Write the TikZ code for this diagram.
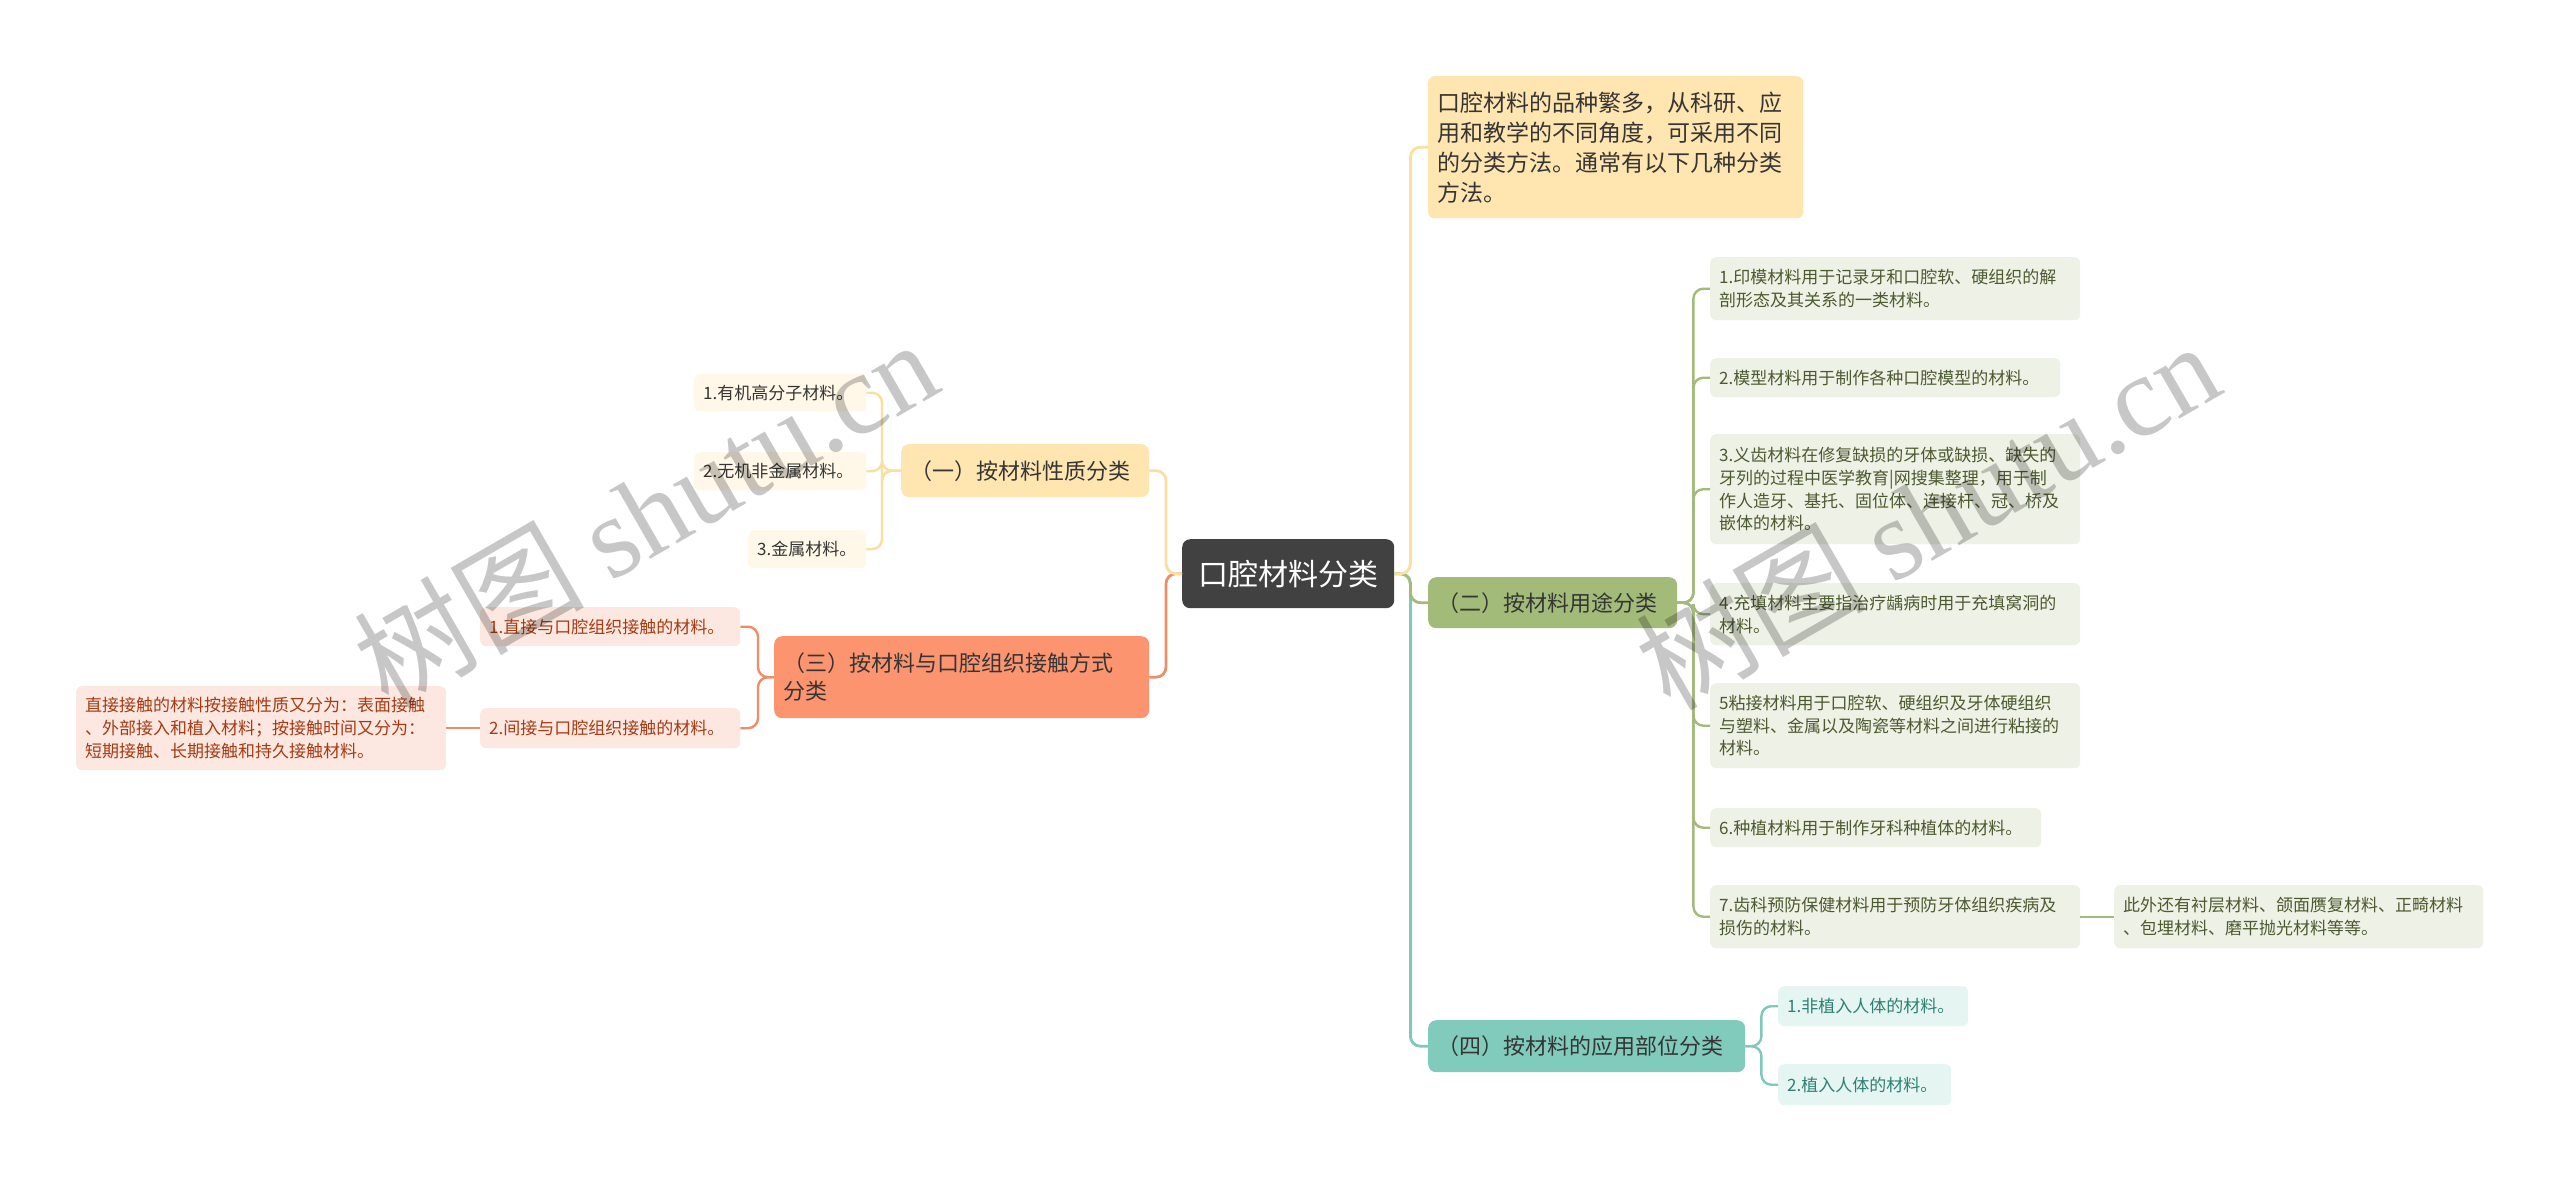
\documentclass[tikz,border=0pt]{standalone}
\usepackage{fontspec}
\setmainfont{Noto Sans CJK SC}
\newfontfamily\wmserif{Liberation Serif}
\newfontfamily\wmcjk{Noto Sans CJK SC}
\definecolor{cRoot}{HTML}{414141}
\definecolor{cYfill}{HTML}{FFE5AF}
\definecolor{cYleaf}{HTML}{FFF8E8}
\definecolor{cYline}{HTML}{F9DFA2}
\definecolor{cOfill}{HTML}{FD9470}
\definecolor{cOleaf}{HTML}{FDE8E1}
\definecolor{cOline}{HTML}{EE8E68}
\definecolor{cOtext}{HTML}{A63A12}
\definecolor{cGfill}{HTML}{A3BB79}
\definecolor{cGleaf}{HTML}{EEF1E5}
\definecolor{cGline}{HTML}{A3BA7C}
\definecolor{cGtext}{HTML}{4B5A2F}
\definecolor{cTfill}{HTML}{80CBBC}
\definecolor{cTleaf}{HTML}{E5F5F1}
\definecolor{cTline}{HTML}{80C9BA}
\definecolor{cTtext}{HTML}{2F8074}
\definecolor{cDark}{HTML}{353535}
\tikzset{
  base/.style={rounded corners=6pt, inner xsep=9pt, inner ysep=2pt, anchor=north west, align=left},
  leaffont/.style={font=\fontsize{17pt}{22.7pt}\selectfont},
  brfont/.style={font=\fontsize{22pt}{28.5pt}\selectfont},
  rootbox/.style={rounded corners=8pt, fill=cRoot, text=white, anchor=north west, align=center, font=\fontsize{30pt}{36pt}\selectfont},
  notebox/.style={base, fill=cYfill, text=cDark, font=\fontsize{23pt}{30pt}\selectfont},
  brY/.style={base, brfont, fill=cYfill, text=cDark, rounded corners=8pt},
  brO/.style={base, brfont, fill=cOfill, text=cDark, rounded corners=8pt},
  brG/.style={base, brfont, fill=cGfill, text=cDark, rounded corners=8pt},
  brT/.style={base, brfont, fill=cTfill, text=cDark, rounded corners=8pt},
  lfY/.style={base, leaffont, fill=cYleaf, text=cDark},
  lfO/.style={base, leaffont, fill=cOleaf, text=cOtext},
  lfG/.style={base, leaffont, fill=cGleaf, text=cGtext},
  lfT/.style={base, leaffont, fill=cTleaf, text=cTtext},
  conn/.style={line width=2.8pt, rounded corners=10pt},
  connY/.style={conn, draw=cYline},
  connO/.style={conn, draw=cOline},
  connG/.style={conn, draw=cGline},
  connT/.style={conn, draw=cTline},
  wm/.style={text=black, opacity=0.22, inner sep=0pt, font=\fontsize{115pt}{120pt}\selectfont}
}
\begin{document}
\begin{tikzpicture}[x=1pt, y=-1pt]
\useasboundingbox (0,0) rectangle (2560,1181);
\fill[white] (0,0) rectangle (2560,1181);
% root
\node[rootbox, minimum width=212pt, minimum height=69pt] (root) at (1182,539) {口腔材料分类};
% note
\node[notebox, text width=357pt, minimum height=142pt] (note) at (1428,76) {口腔材料的品种繁多，从科研、应\\用和教学的不同角度，可采用不同\\的分类方法。通常有以下几种分类\\方法。};
% (一)
\node[brY, text width=230pt, minimum height=53pt] (yi) at (901,444) {（一）按材料性质分类};
\node[lfY, text width=154pt, minimum height=37pt] (l1) at (694,374) {1.有机高分子材料。};
\node[lfY, text width=154pt, minimum height=38pt] (l2) at (694,452) {2.无机非金属材料。};
\node[lfY, text width=100pt, minimum height=38pt] (l3) at (748,530) {3.金属材料。};
% (三)
\node[brO, text width=357pt, minimum height=82pt] (san) at (774,636) {（三）按材料与口腔组织接触方式\\分类};
\node[lfO, text width=242pt, minimum height=39pt] (c1) at (480,607) {1.直接与口腔组织接触的材料。};
\node[lfO, text width=242pt, minimum height=40pt] (c2) at (480,708) {2.间接与口腔组织接触的材料。};
\node[lfO, text width=352pt, minimum height=84pt] (far) at (76,686) {直接接触的材料按接触性质又分为：表面接触\\、外部接入和植入材料；按接触时间又分为：\\短期接触、长期接触和持久接触材料。};
% (二)
\node[brG, text width=231pt, minimum height=51pt] (er) at (1428,577) {（二）按材料用途分类};
\node[lfG, text width=352pt, minimum height=63pt] (g1) at (1710,257) {1.印模材料用于记录牙和口腔软、硬组织的解\\剖形态及其关系的一类材料。};
\node[lfG, text width=332pt, minimum height=39pt] (g2) at (1710,358) {2.模型材料用于制作各种口腔模型的材料。};
\node[lfG, text width=352pt, minimum height=110pt] (g3) at (1710,434) {3.义齿材料在修复缺损的牙体或缺损、缺失的\\牙列的过程中医学教育|网搜集整理，用于制\\作人造牙、基托、固位体、连接杆、冠、桥及\\嵌体的材料。};
\node[lfG, text width=352pt, minimum height=62pt] (g4) at (1710,583) {4.充填材料主要指治疗龋病时用于充填窝洞的\\材料。};
\node[lfG, text width=352pt, minimum height=85pt] (g5) at (1710,683) {5粘接材料用于口腔软、硬组织及牙体硬组织\\与塑料、金属以及陶瓷等材料之间进行粘接的\\材料。};
\node[lfG, text width=313pt, minimum height=39pt] (g6) at (1710,808) {6.种植材料用于制作牙科种植体的材料。};
\node[lfG, text width=352pt, minimum height=63pt] (g7) at (1710,885) {7.齿科预防保健材料用于预防牙体组织疾病及\\损伤的材料。};
\node[lfG, text width=351pt, minimum height=63pt] (g7c) at (2114,885) {此外还有衬层材料、颌面赝复材料、正畸材料\\、包埋材料、磨平抛光材料等等。};
% (四)
\node[brT, text width=299pt, minimum height=52pt] (si) at (1428,1020) {（四）按材料的应用部位分类};
\node[lfT, text width=172pt, minimum height=40pt] (t1) at (1778,986) {1.非植入人体的材料。};
\node[lfT, text width=155pt, minimum height=41pt] (t2) at (1778,1064) {2.植入人体的材料。};
% connectors from root
\draw[connO] (root.west) -- ++(-16,0) |- (san.east);
\draw[connY] (root.west) -- ++(-16,0) |- (yi.east);
\draw[connT] (root.east) -- ++(16,0) |- (si.west);
\draw[connG] (root.east) -- ++(16,0) |- (er.west);
\draw[connY] (root.east) -- ++(16,0) |- (note.west);
% children connectors
\foreach \n in {l1,l2,l3} \draw[connY, line width=2.4pt] (yi.west) -- ++(-19,0) |- (\n.east);
\foreach \n in {c1,c2} \draw[connO, line width=2.4pt] (san.west) -- ++(-16,0) |- (\n.east);
\draw[connO, line width=2.4pt] (c2.west) -- (far.east);
\foreach \n in {g1,g2,g3,g4,g5,g6,g7} \draw[connG, line width=2.4pt] (er.east) -- ++(16,0) |- (\n.west);
\draw[connG, line width=2.4pt] (g7.east) -- (g7c.west);
\foreach \n in {t1,t2} \draw[connT, line width=2.4pt] (si.east) -- ++(16,0) |- (\n.west);
% watermark
\node[wm, rotate=30] (wm1) at (645,512) {{\wmcjk 树图} {\wmserif shutu.cn}};
\node[wm, rotate=30] (wm2) at (1927,514) {{\wmcjk 树图} {\wmserif shutu.cn}};
\end{tikzpicture}
\end{document}
